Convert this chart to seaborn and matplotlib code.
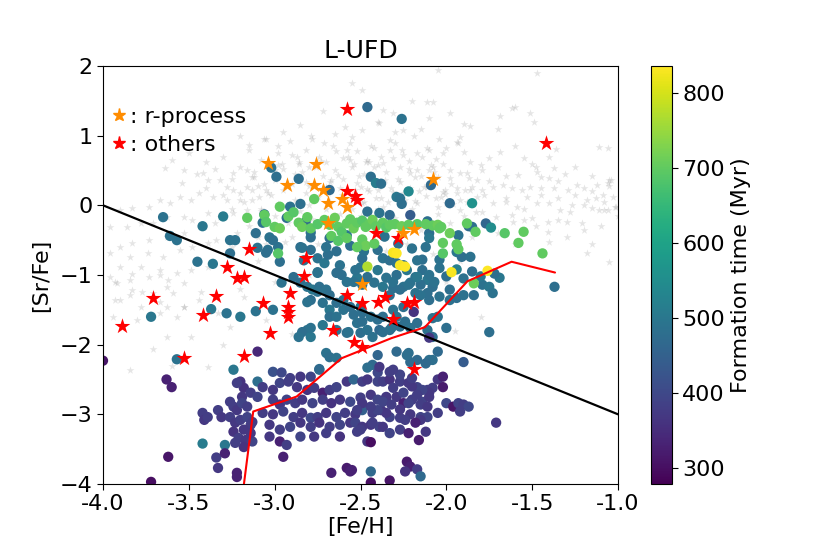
import numpy as np
import pandas as pd
import matplotlib
matplotlib.use("Agg")
import matplotlib.pyplot as plt
import seaborn as sns
from matplotlib.lines import Line2D

# ---------------- data ----------------
# blue / teal stars
mid_feh = [-2.46,-2.26,-3.02,-2.99,-2.86,-2.68,-2.91,-2.85,-2.44,-2.41,-2.38,-2.22,-2.09,-2.29,-2.27,-2.26,-1.98,-1.85,-2.46,-2.39,
           -2.33,-2.21,-2.11,-2.10,-2.10,-1.93,-1.87,-1.85,-1.77,-1.74,-2.12,-1.94,-1.91,-1.86,-2.14,-2.04,-3.65,-3.30,-3.61,-3.57,
           -3.42,-3.45,-3.36,-3.26,-3.26,-3.11,-3.07,-3.06,-3.03,-3.04,-2.98,-2.97,-2.85,-2.79,-2.83,-2.75,-3.23,-3.01,-3.10,-3.05,
           -2.84,-2.79,-2.75,-2.71,-2.69,-2.70,-2.89,-2.96,-2.85,-2.81,-2.78,-2.74,-2.70,-2.62,-2.61,-2.58,-2.52,-2.53,-2.49,-2.50,
           -2.40,-2.37,-2.40,-2.33,-2.29,-2.25,-2.23,-2.17,-2.14,-2.18,-2.11,-2.15,-2.21,-2.29,-2.35,-2.37,-2.31,-2.25,-2.33,-2.18,
           -2.11,-2.56,-2.48,-2.36,-2.28,-2.20,-2.64,-2.75,-2.64,-2.49,-2.75,-2.79,-2.72,-2.68,-2.64,-2.60,-2.56,-2.50,-2.54,-2.52,
           -2.58,-2.64,-2.72,-2.81,-2.84,-2.86,-2.79,-2.70,-2.68,-2.60,-2.68,-2.64,-2.49,-2.44,-2.40,-2.39,-2.43,-2.50,-2.46,-2.33,
           -2.29,-2.24,-2.21,-2.17,-2.11,-2.08,-2.05,-2.10,-2.21,-2.23,-2.29,-2.40,-2.43,-2.46,-2.81,-2.79,-2.68,-2.64,-2.74,-2.57,
           -3.11,-3.01,-3.20,-3.24,-3.10,-3.72,-3.37,-3.28,-3.57,-2.54,-2.46,-2.42,-2.31,-2.27,-2.22,-2.17,-2.10,-2.08,-2.04,-1.98,
           -1.98,-1.94,-1.90,-1.84,-1.79,-1.75,-1.73,-1.69,-1.37,-2.15,-2.10,-2.19,-2.25,-2.31,-2.37,-2.49,-2.37,-2.32,-2.27,-2.08,
           -2.00,-2.05,-2.10,-2.08,-2.12,-2.22,-2.17,-1.75,-1.90,-2.04,-2.00,-1.94,-1.90,-1.85,-1.80,-1.72,-2.07,-2.93,-2.82,-2.79,
           -2.58,-2.68]
mid_srfe = [1.41,1.24,0.54,0.41,0.38,0.22,-0.02,0.02,0.41,0.32,0.31,0.20,0.29,0.12,0.10,0.02,0.03,0.03,-0.09,-0.11,
            -0.14,-0.14,-0.23,-0.40,-0.47,-0.43,-0.30,-0.31,-0.26,-0.32,-0.60,-0.67,-0.74,-0.74,-0.78,-0.78,-0.17,-0.16,-0.44,-0.50,
            -0.30,-0.81,-0.84,-0.50,-0.69,-0.40,-0.25,-0.13,-0.46,-0.64,-0.60,-0.81,-0.60,-0.46,-0.79,-0.96,-0.50,-0.50,-0.61,-0.68,
            -0.61,-0.64,-0.76,-0.83,-0.71,-0.60,-1.03,-1.11,-1.11,-1.17,-1.21,-1.17,-1.21,-0.86,-1.00,-1.10,-1.04,-0.93,-0.76,-0.89,
            -0.64,-0.76,-0.93,-0.79,-0.83,-0.86,-0.93,-0.79,-0.93,-1.03,-1.07,-1.14,-1.11,-1.00,-1.04,-1.17,-1.19,-1.17,-1.29,-1.26,
            -1.26,-0.58,-0.66,-0.45,-0.55,-0.62,-0.66,-0.97,-0.97,-1.14,-1.24,-1.36,-1.40,-1.50,-1.40,-1.50,-1.46,-1.46,-1.57,-1.69,
            -1.83,-1.79,-1.72,-1.79,-1.82,-1.89,-1.89,-2.12,-1.29,-1.36,-1.60,-1.60,-1.67,-1.60,-1.64,-1.79,-1.89,-1.83,-1.79,-1.79,
            -1.60,-1.67,-1.76,-1.69,-1.79,-1.89,-2.10,-2.22,-2.25,-2.15,-2.10,-2.15,-2.29,-2.33,-1.39,-1.76,-2.18,-2.19,-2.35,-1.82,
            -1.52,-1.50,-1.60,-2.36,-2.53,-1.60,-1.49,-1.55,-2.21,-1.10,-1.03,-1.11,-1.10,-1.21,-1.14,-1.03,-1.00,-1.17,-1.31,-1.21,
            -1.36,-1.33,-1.29,-1.29,-1.14,-1.17,-1.26,-1.04,-1.17,-1.29,-1.36,-1.53,-1.46,-1.50,-1.60,-1.54,-1.82,-1.76,-1.74,-1.62,
            -1.76,-1.60,-1.90,-2.22,-2.27,-2.12,-2.22,-1.82,-2.25,-0.90,-1.02,-0.92,-1.05,-0.95,-1.02,-0.98,-1.10,-0.18,-0.24,-0.39,
            -0.43,-0.47]
mid_time = [470,490,490,480,480,470,490,480,480,510,480,540,470,500,490,480,470,560,480,490,
            470,440,480,480,500,490,470,480,460,550,490,500,480,490,480,490,490,510,490,490,
            500,490,500,490,480,480,490,480,490,490,490,480,480,480,490,490,490,480,490,480,
            490,480,490,500,480,490,480,490,480,490,500,480,490,490,480,490,500,490,480,490,
            480,490,500,480,490,480,500,490,480,490,500,480,490,480,490,500,480,490,480,490,
            480,480,490,490,480,490,480,490,480,490,490,480,490,500,480,490,480,490,480,490,
            480,490,500,490,480,490,500,490,480,490,480,490,480,490,480,470,490,480,490,480,
            490,480,490,480,490,480,470,480,470,480,470,460,470,480,490,490,480,490,480,490,
            490,490,500,500,480,500,500,490,490,490,480,490,490,480,490,500,490,480,490,480,
            490,480,490,480,490,500,490,500,480,490,480,360,480,490,480,480,480,490,480,490,
            480,490,370,480,470,480,470,480,440,490,480,520,490,480,500,480,490,480,470,490,
            500,480]

# green / yellow stars
grn_feh = [-3.16,-3.06,-3.05,-3.00,-2.97,-2.97,-2.98,-2.77,-2.92,-2.89,-2.86,-2.84,-2.81,-2.79,-2.75,-2.71,-2.68,-2.65,-2.63,-2.61,
           -2.58,-2.56,-2.54,-2.52,-2.49,-2.47,-2.45,-2.43,-2.41,-2.37,-2.35,-2.33,-2.30,-2.26,-2.22,-2.17,-2.12,-2.08,-2.05,-2.03,
           -2.67,-2.63,-2.58,-2.49,-2.47,-2.52,-2.42,-2.02,-2.02,-1.94,-1.93,-1.98,-1.88,-1.83,-1.66,-1.55,-1.58,-1.44,-1.84,-2.04,
           -2.46,-2.31,-2.29,-2.27,-2.24,-1.97,-1.76]
grn_srfe = [-0.18,-0.14,-0.24,-0.31,-0.33,-0.02,-0.69,0.09,-0.16,-0.10,-0.25,-0.31,-0.17,-0.33,-0.27,-0.21,-0.28,-0.18,-0.31,-0.38,
            -0.26,-0.20,-0.33,-0.25,-0.22,-0.31,-0.27,-0.21,-0.30,-0.25,-0.32,-0.28,-0.27,-0.30,-0.28,-0.27,-0.27,-0.29,-0.28,-0.31,
            -0.44,-0.51,-0.47,-0.49,-0.58,-0.60,-0.55,-0.54,-0.69,-0.56,-0.63,-0.40,-0.26,-0.38,-0.40,-0.38,-0.54,-0.69,-1.12,-0.33,
            -0.88,-0.68,-0.69,-0.86,-0.88,-0.96,-0.94]
grn_time = [700,700,690,700,710,700,690,700,700,690,700,710,700,700,690,700,700,710,700,690,
            700,700,710,700,690,700,700,710,700,700,690,700,700,710,700,690,700,700,710,700,
            700,690,700,700,710,700,700,700,690,700,700,710,700,700,690,700,700,700,710,700,
            770,830,835,830,835,830,835]

# purple stars (early formation)
low_feh = [-4.00,-3.72,-3.63,-3.60,-3.62,-3.42,-3.42,-3.41,-3.39,-3.34,-3.33,-3.29,-3.29,-3.33,-3.31,-3.20,-3.18,-3.19,-3.26,-3.24,
           -3.22,-3.19,-3.16,-3.26,-3.23,-3.20,-3.16,-3.14,-3.18,-3.24,-3.21,-3.17,-3.13,-3.18,-3.22,-3.10,-3.22,-3.14,-3.10,-3.13,
           -3.14,-3.23,-3.22,-3.01,-2.96,-2.91,-2.85,-2.79,-2.74,-3.07,-3.01,-2.97,-2.92,-2.87,-2.81,-2.77,-2.72,-2.68,-2.64,-2.58,
           -2.54,-2.49,-2.46,-2.40,-2.37,-2.33,-2.27,-2.22,-2.17,-2.11,-2.05,-2.02,-3.01,-2.97,-2.93,-2.88,-2.84,-2.78,-2.72,-2.67,
           -2.62,-2.56,-2.50,-2.44,-2.40,-2.35,-2.29,-2.25,-2.20,-2.14,-2.10,-3.07,-3.01,-2.95,-2.89,-2.84,-2.79,-2.75,-2.70,-2.64,
           -2.59,-2.53,-2.49,-2.43,-2.38,-2.33,-2.27,-2.21,-2.15,-3.03,-2.97,-2.91,-2.85,-2.79,-2.74,-2.68,-2.62,-2.56,-2.50,-2.44,
           -2.39,-3.03,-2.97,-2.93,-2.85,-2.77,-2.70,-2.62,-2.52,-2.46,-2.95,-2.67,-2.58,-2.56,-2.44,-2.08,-2.10,-2.14,-2.17,-2.20,
           -2.25,-2.31,-2.35,-2.37,-2.32,-2.27,-2.22,-2.15,-2.11,-2.05,-2.11,-2.15,-2.18,-2.24,-2.35,-2.40,-2.44,-2.49,-2.52,-2.53,
           -2.49,-2.43,-2.37,-2.33,-2.27,-2.22,-2.16,-2.12,-2.44,-2.50,-2.00,-1.96,-1.93,-1.90,-1.87,-1.92,-1.71,-2.23,-2.21,-2.24,
           -2.17,-2.15,-2.33,-2.44,-2.55,-2.02,-2.40,-2.33,-2.27,-2.20,-2.39,-2.31]
low_srfe = [-2.23,-3.97,-2.50,-2.61,-3.61,-3.42,-2.98,-3.08,-3.04,-3.62,-3.77,-3.44,-3.56,-2.94,-3.04,-2.53,-2.62,-2.75,-2.82,-2.89,
            -2.94,-2.84,-2.89,-3.04,-3.12,-3.08,-3.04,-3.15,-3.22,-3.25,-3.34,-3.37,-3.39,-3.47,-3.90,-2.10,-2.55,-2.69,-2.75,-3.11,
            -3.27,-3.41,-3.84,-2.39,-2.40,-2.48,-2.46,-2.46,-2.36,-2.61,-2.65,-2.55,-2.53,-2.61,-2.65,-2.62,-2.69,-2.65,-2.61,-2.53,
            -2.50,-2.53,-2.50,-2.53,-2.53,-2.50,-2.53,-2.55,-2.61,-2.65,-2.50,-2.61,-2.79,-2.86,-2.79,-2.84,-2.79,-2.84,-2.79,-2.84,
            -2.79,-2.82,-2.76,-2.72,-2.79,-2.76,-2.75,-2.84,-2.79,-2.82,-2.75,-2.98,-3.00,-2.96,-3.04,-2.98,-3.05,-3.04,-2.98,-3.04,
            -2.98,-3.00,-2.94,-2.98,-2.94,-3.04,-3.05,-3.00,-3.04,-3.15,-3.22,-3.18,-3.12,-3.18,-3.12,-3.18,-3.15,-3.12,-3.20,-3.15,
            -3.18,-3.32,-3.39,-3.44,-3.32,-3.32,-3.27,-3.32,-3.25,-3.39,-3.61,-3.84,-3.77,-3.82,-3.82,-2.62,-2.69,-2.65,-2.72,-2.60,
            -2.69,-2.62,-2.75,-2.82,-2.86,-2.93,-2.84,-2.86,-2.89,-2.98,-3.04,-3.08,-3.12,-3.08,-2.98,-2.94,-2.89,-2.84,-2.94,-3.12,
            -3.18,-3.12,-3.18,-3.27,-3.22,-3.27,-3.37,-3.25,-3.40,-3.22,-2.84,-2.89,-2.84,-2.86,-2.89,-2.96,-3.12,-3.68,-3.75,-3.82,
            -3.79,-3.89,-3.95,-3.98,-3.80,-2.46,-2.40,-2.39,-2.43,-2.48,-2.32,-2.36]
low_time = [310,300,330,330,310,510,380,370,380,380,370,500,330,380,370,360,360,370,380,380,
            370,390,380,380,370,380,390,380,370,360,380,370,390,360,330,340,380,380,390,380,
            370,380,330,420,400,380,370,390,470,380,370,390,380,370,360,380,330,380,390,370,
            460,380,370,390,380,360,380,370,390,380,370,320,380,370,390,380,370,390,380,360,
            370,400,380,370,390,380,370,330,380,390,370,380,370,390,380,370,400,380,370,390,
            380,370,450,380,370,390,380,370,390,370,380,390,370,380,360,380,390,370,380,370,
            390,370,330,380,390,370,380,360,380,370,330,330,320,330,470,380,370,390,380,370,
            390,380,370,390,380,370,390,380,370,380,390,370,330,380,370,390,380,370,380,390,
            370,380,370,390,380,330,320,370,300,380,400,310,390,380,400,380,370,320,330,360,
            380,470,310,300,330,330,400,380,390,380,370,380]

# r-process and other special stars
rp_feh = [-3.04,-2.76,-2.93,-2.77,-2.72,-2.69,-2.61,-2.58,-2.69,-2.25,-2.19,-2.49,-2.08]
rp_srfe = [0.61,0.59,0.29,0.29,0.22,0.03,0.09,-0.02,-0.25,-0.40,-0.34,-1.13,0.38]
oth_feh = [-2.58,-1.42,-2.58,-2.53,-2.52,-2.41,-2.28,-3.15,-2.82,-2.83,-2.91,-2.58,-3.22,-3.18,-3.28,-3.71,-3.89,-3.34,
           -3.42,-3.07,-3.03,-3.18,-3.53,-2.92,-2.92,-2.92,-2.66,-2.54,-2.49,-2.49,-2.40,-2.36,-2.23,-2.19,-2.31,-2.19]
oth_srfe = [1.38,0.90,0.21,0.13,0.08,-0.40,-0.47,-0.63,-0.76,-1.01,-1.26,-1.29,-1.04,-1.03,-0.88,-1.33,-1.73,-1.30,
            -1.57,-1.40,-1.83,-2.16,-2.19,-1.46,-1.53,-1.60,-1.79,-1.96,-1.40,-2.03,-1.39,-1.31,-1.40,-1.39,-1.63,-2.35]

# background (grey) sample
bg_feh = [-1.62,-1.60,-1.51,-1.69,-1.49,-1.90,-1.86,-1.70,-1.92,-1.93,-1.90,-2.00,-1.69,-1.75,-1.55,-1.36,-1.11,-2.02,-1.86,-1.80,
          -1.48,-1.47,-1.37,-1.65,-1.58,-1.40,-1.31,-1.15,-1.05,-1.98,-1.92,-1.87,-1.82,-2.01,-1.94,-1.89,-1.85,-1.79,-1.73,-1.67,
          -1.62,-1.56,-1.51,-1.45,-1.37,-1.29,-1.24,-1.20,-1.12,-1.09,-1.18,-1.13,-1.06,-1.11,-1.02,-2.00,-1.92,-1.82,-1.73,-1.65,
          -1.59,-1.53,-1.47,-1.40,-1.34,-1.27,-1.20,-1.15,-1.79,-1.71,-1.62,-1.55,-1.50,-1.41,-1.35,-1.30,-1.21,-1.41,-1.61,-1.04,
          -1.01,-1.18,-1.05,-1.40,-1.47,-2.05,-2.55,-2.49,-2.11,-2.08,-2.37,-2.31,-1.98,-2.49,-2.25,-2.42,-2.33,-2.25,-2.17,-2.10,
          -2.02,-1.94,-2.56,-2.46,-2.37,-2.27,-2.17,-2.08,-1.98,-1.88,-1.79,-2.50,-2.40,-2.31,-2.21,-2.11,-2.02,-1.94,-1.86,-2.49,
          -2.37,-2.17,-2.05,-1.92,-3.64,-3.53,-3.42,-3.39,-3.54,-3.32,-3.24,-3.20,-3.16,-3.13,-3.28,-3.24,-3.20,-3.16,-3.13,-3.09,
          -3.05,-3.13,-3.20,-3.28,-3.36,-3.44,-3.49,-3.55,-3.61,-3.67,-3.73,-3.83,-3.90,-3.96,-3.86,-3.78,-3.71,-3.63,-3.53,-3.48,
          -3.39,-3.32,-3.24,-3.16,-3.53,-3.63,-3.73,-3.83,-3.90,-3.96,-3.84,-3.74,-3.65,-3.55,-3.48,-3.39,-3.34,-3.90,-3.78,-3.67,
          -3.57,-3.49,-3.39,-3.96,-3.84,-3.73,-3.63,-3.53,-3.92,-3.83,-3.71,-3.59,-3.90,-3.78,-3.63,-3.94,-3.80,-3.67,-3.53,-3.44,
          -3.93,-3.83,-3.67,-3.62,-3.93,-3.84,-3.77,-3.67,-3.57,-3.53,-3.63,-3.71,-3.84,-3.39,-3.49,-3.26,-3.43,-3.33,-3.18,-2.95,
          -2.85,-2.72,-2.65,-2.40,-2.20,-2.78,-3.05,-3.20,-2.55,-2.30,-2.15,-2.10,-3.30,-3.15,-3.08,-2.98,-2.90,-2.82,-2.74,-2.66,
          -2.60,-2.52,-2.45,-2.38,-2.30,-2.22,-2.14,-2.06,-3.40,-3.50,-3.60,-2.86,-2.70,-2.56,-3.45,-3.35,-3.25,-3.12,-3.00,-2.95,
          -2.88,-2.80,-2.72,-2.65,-2.60,-2.55,-2.48,-2.42,-2.35,-2.28,-2.22,-2.15,-2.10,-2.05,-2.98,-3.06,-2.82,-2.68,-2.52,-3.40,
          -3.30,-3.18,-3.10,-3.02,-2.95,-2.88,-2.82,-2.75,-2.68,-2.62,-2.55,-2.48,-2.45,-2.38,-2.32,-2.25,-2.18,-2.12,-2.06,-2.98,
          -2.80,-2.70,-3.35,-3.25,-3.15,-3.08,-3.00,-2.92,-2.85,-2.78,-2.70,-2.62,-2.55,-2.50,-2.40,-2.30,-2.20,-2.15,-2.05,-1.98,
          -1.90,-1.85,-1.95,-2.10,-2.60,-2.90,-3.05,-3.25,-2.75,-3.10,-3.00,-2.80,-3.20,-2.60,-2.35,-2.00,-1.90,-1.80,-1.95,-3.05,
          -2.90,-3.30,-3.60,-1.75,-1.65,-1.55,-1.45,-1.35,-1.25,-1.15,-1.08,-1.03,-1.28,-1.20,-1.10,-1.48,-1.70,-1.60,-1.30,-1.15,
          -1.50,-1.25,-1.40,-1.60,-1.70,-1.05,-1.00,-1.35,-1.45,-1.06,-1.06,-1.08,
          # denser core of the cloud
          -3.12,-3.04,-2.96,-2.90,-2.84,-2.78,-2.73,-2.67,-2.61,-2.57,-2.51,-2.46,-2.40,-2.34,-2.27,-2.21,-2.16,-2.09,-2.03,-1.97,
          -3.08,-3.00,-2.93,-2.87,-2.80,-2.76,-2.69,-2.63,-2.58,-2.53,-2.47,-2.41,-2.36,-2.31,-2.24,-2.18,-2.13,-2.07,-2.01,-1.96,
          -3.15,-3.06,-2.98,-2.91,-2.86,-2.79,-2.71,-2.64,-2.59,-2.54,-2.44,-2.39,-2.33,-2.26,-2.19,-2.11,-2.04,-1.88,-1.83,-1.78,
          -3.22,-3.10,-2.94,-2.83,-2.66,-2.50,-2.35,-2.23,-2.08,-1.92]
bg_srfe = [1.40,1.41,1.33,1.28,1.20,1.17,1.14,1.10,0.98,0.90,0.77,0.82,0.77,0.68,0.68,0.81,0.84,0.59,0.62,0.58,
           0.55,0.48,0.54,0.42,0.44,0.39,0.45,0.42,0.36,0.39,0.46,0.39,0.36,0.22,0.25,0.22,0.26,0.22,0.26,0.29,
           0.25,0.22,0.26,0.25,0.25,0.22,0.29,0.25,0.29,0.15,0.08,0.11,-0.07,-0.07,-0.02,0.04,0.08,0.12,0.04,0.11,
           -0.02,0.12,0.04,0.04,-0.07,0.00,0.00,-0.04,-0.09,-0.17,-0.14,-0.21,-0.18,-0.24,-0.21,-0.24,-0.26,-0.38,-0.24,0.36,
           -0.02,-0.69,-0.82,-0.53,1.90,1.94,1.76,1.66,1.48,1.48,1.37,1.33,1.33,1.08,1.08,0.82,0.79,0.72,0.75,0.79,
           0.75,0.91,0.65,0.65,0.61,0.55,0.51,0.55,0.51,0.46,0.51,0.26,0.22,0.19,0.25,0.26,0.19,0.18,0.22,0.03,
           -0.02,0.03,-0.02,-0.07,0.54,0.51,0.46,0.36,0.32,0.36,0.46,0.55,0.51,0.41,0.26,0.22,0.18,0.26,0.22,0.12,
           0.22,0.07,0.07,0.07,0.12,0.18,0.07,0.12,0.03,0.07,-0.03,-0.04,-0.07,-0.31,-0.31,-0.25,-0.25,-0.17,-0.17,-0.21,
           -0.11,-0.17,-0.11,-0.07,-0.40,-0.45,-0.50,-0.54,-0.60,-0.69,-0.74,-0.69,-0.74,-0.64,-0.60,-0.54,-0.50,-0.88,-0.88,-0.93,
           -0.97,-0.93,-0.88,-1.03,-1.07,-1.03,-1.17,-1.11,-1.11,-1.21,-1.26,-1.26,-1.36,-1.46,-1.46,-1.60,-1.64,-1.54,-1.46,-1.36,
           -1.10,-0.98,-1.00,-1.07,-1.36,-1.29,-1.24,-1.39,-1.60,-1.46,-1.89,-2.06,-2.36,-2.32,-1.89,-1.75,-1.24,-1.54,-1.31,1.05,
           1.15,1.35,1.02,1.20,1.50,0.95,0.95,1.00,0.98,1.05,1.10,1.25,0.70,0.80,0.65,0.85,0.72,0.80,0.70,0.85,
           0.68,0.78,0.62,0.70,0.90,0.64,0.70,0.66,0.62,0.75,0.65,0.62,0.62,0.90,0.45,0.52,0.38,0.48,0.36,0.52,
           0.45,0.55,0.42,0.50,0.38,0.55,0.45,0.55,0.48,0.38,0.52,0.42,0.50,0.40,0.58,0.30,0.33,0.34,0.32,0.25,
           0.15,0.05,0.28,0.15,0.22,0.08,0.18,0.12,0.05,0.25,0.15,0.05,0.20,0.10,0.25,0.18,0.06,0.14,0.10,0.02,
           0.00,0.26,-0.25,-0.05,-0.30,-0.05,-0.15,-0.25,-0.08,-0.20,-0.05,-0.12,-0.05,-0.15,-0.05,-0.18,-0.05,-0.35,-0.12,-0.25,
           -0.15,-0.45,-0.55,-0.50,-0.40,-0.45,-0.55,-0.60,-0.55,-0.80,-1.10,-1.00,-1.20,-0.90,-1.05,-1.10,-1.30,-1.60,-1.80,-1.65,
           -1.85,-2.00,-2.30,0.35,0.05,-0.05,0.15,0.10,0.15,0.20,0.05,0.12,-0.10,-0.35,-0.30,-0.30,-0.40,-0.55,-0.45,-0.55,
           0.60,0.55,0.70,0.85,0.55,0.28,-0.15,0.35,0.40,0.82,0.32,-0.07,
           0.40,0.18,0.60,0.30,0.48,0.10,0.64,0.36,0.15,0.70,0.42,0.24,0.58,0.05,0.33,0.46,0.20,0.58,0.12,0.30,
           -0.08,0.50,0.00,0.70,0.28,0.55,0.18,0.44,0.80,0.22,0.62,0.10,0.36,0.68,0.08,0.40,0.26,0.48,0.16,0.02,
           0.86,0.95,0.75,0.92,0.60,1.00,0.90,0.78,1.12,0.60,0.85,1.18,0.94,0.80,1.00,0.82,0.95,0.05,-0.10,0.15,
           -0.40,-0.45,-0.52,-0.60,-0.62,-0.58,-0.65,-0.55,-0.70,-0.80]

# model curve and dividing line
curve_feh = [-3.179, -3.125, -2.872, -2.61, -2.319, -2.125, -1.877, -1.62, -1.367]
curve_srfe = [-4.0, -2.96, -2.745, -2.195, -1.906, -1.75, -1.09, -0.81, -0.965]
cut_feh = [-4.0, -1.0]
cut_srfe = [0.0, -3.0]

t_min, t_max = 279, 836

# ---------------- figure ----------------
sns.set_style("ticks", {"axes.edgecolor": "black", "xtick.color": "black", "ytick.color": "black",
                        "text.color": "black", "axes.labelcolor": "black"})
plt.rcParams["font.family"] = ["DejaVu Sans"]

fig = plt.figure(figsize=(8.3, 5.54), dpi=100)
ax = fig.add_axes([0.1241, 0.1264, 0.6205, 0.7545])
cax = fig.add_axes([0.7843, 0.1264, 0.0253, 0.7545])

bg = pd.DataFrame({"feh": bg_feh, "srfe": bg_srfe})
sns.scatterplot(data=bg, x="feh", y="srfe", marker="*", color="gray", alpha=0.2,
                s=35, linewidth=0, ax=ax, zorder=1)

stars = pd.DataFrame({
    "feh": mid_feh + low_feh + grn_feh,
    "srfe": mid_srfe + low_srfe + grn_srfe,
    "time": mid_time + low_time + grn_time,
})
norm = matplotlib.colors.Normalize(vmin=t_min, vmax=t_max)
sns.scatterplot(data=stars, x="feh", y="srfe", hue="time", palette="viridis", hue_norm=norm,
                s=55, linewidth=0, legend=False, ax=ax, zorder=2)

sns.lineplot(x=cut_feh, y=cut_srfe, color="black", lw=1.6, sort=False, estimator=None, ax=ax, zorder=3)
sns.lineplot(x=curve_feh, y=curve_srfe, color="red", lw=1.5, sort=False, estimator=None, ax=ax, zorder=3)

sns.scatterplot(x=oth_feh, y=oth_srfe, marker="*", color="red", s=140, linewidth=0, ax=ax, zorder=4)
sns.scatterplot(x=rp_feh, y=rp_srfe, marker="*", color="darkorange", s=140, linewidth=0, ax=ax, zorder=4)

ax.set_xlim(-4, -1)
ax.set_ylim(-4, 2)
ax.set_xticks([-4.0, -3.5, -3.0, -2.5, -2.0, -1.5, -1.0])
ax.set_yticks([-4, -3, -2, -1, 0, 1, 2])
ax.xaxis.set_major_formatter(matplotlib.ticker.FormatStrFormatter("%.1f"))
ax.tick_params(labelsize=16, direction="out", length=4)
ax.set_xlabel("[Fe/H]", fontsize=16, labelpad=2)
ax.set_ylabel("[Sr/Fe]", fontsize=16, labelpad=6)
ax.set_title("L-UFD", fontsize=18, pad=6)
for sp in ax.spines.values():
    sp.set_visible(True)
    sp.set_color("black")

handles = [Line2D([], [], marker="*", color="darkorange", linestyle="none", markersize=9.5),
           Line2D([], [], marker="*", color="red", linestyle="none", markersize=9.5)]
ax.legend(handles, [": r-process", ": others"], loc="upper left", bbox_to_anchor=(0.01, 0.903),
          frameon=False, fontsize=16, handlelength=1.0, handletextpad=0.0, borderpad=0.0,
          borderaxespad=0.0, labelspacing=0.38)

sm = matplotlib.cm.ScalarMappable(norm=norm, cmap="viridis")
sm.set_array([])
cb = fig.colorbar(sm, cax=cax)
cb.set_ticks([300, 400, 500, 600, 700, 800])
cb.ax.tick_params(labelsize=16, length=4)
cb.set_label("Formation time (Myr)", fontsize=16)
cb.outline.set_edgecolor("black")

fig.savefig("out.png", dpi=100)
